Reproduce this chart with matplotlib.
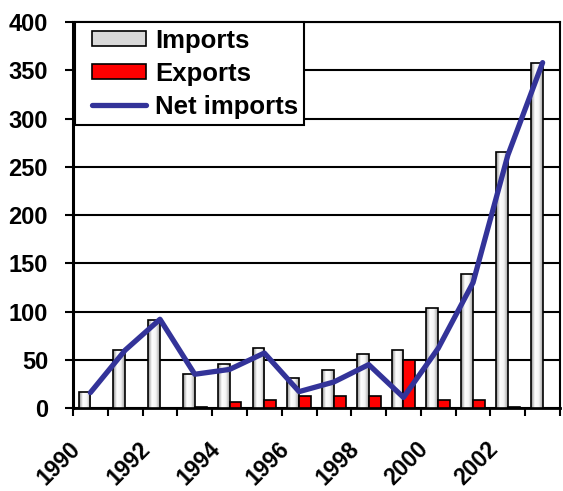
import numpy as np
import matplotlib
matplotlib.use("Agg")
import matplotlib.pyplot as plt
from matplotlib.colors import LinearSegmentedColormap
from matplotlib.patches import Patch
from matplotlib.lines import Line2D
from matplotlib.legend_handler import HandlerPatch, HandlerLine2D

years = list(range(1990, 2004))
imports = [17, 60, 91, 35, 46, 62, 31, 39, 56, 60, 104, 139, 265, 358]
exports = [0, 0, 0, 1.5, 6, 8, 12, 12, 12, 50, 8, 8, 1.5, 0]
net_imports = [16, 60, 92, 35, 40, 57, 17, 27, 45, 11, 62, 130, 262, 358]
label_years = [1990, 1992, 1994, 1996, 1998, 2000, 2002]

plt.rcParams['font.family'] = ['Liberation Sans', 'DejaVu Sans']
plt.rcParams['font.weight'] = 'bold'

fig = plt.figure(figsize=(5.63, 4.91), dpi=100)
ax = fig.add_axes([0.1297, 0.169, 0.865, 0.786])

x = np.arange(len(years))
w = 0.34

# gray-white-gray gradient like the old Excel fill
grad_cmap = LinearSegmentedColormap.from_list('g', ['#8c8c8c', '#ffffff', '#f4f4f4', '#a0a0a0'])
grad = np.linspace(0, 1, 64).reshape(1, -1)

ax.grid(axis='y', color='black', lw=1.5, zorder=0)
ax.set_axisbelow(True)

bars = ax.bar(x - w / 2, imports, w, facecolor='none', edgecolor='black', lw=1.2, zorder=3)
for b in bars:
    im = ax.imshow(grad, extent=[b.get_x(), b.get_x() + b.get_width(), 0, b.get_height()],
                   aspect='auto', cmap=grad_cmap, zorder=2.9, interpolation='bilinear')
    im.set_clip_path(b)
ax.bar(x + w / 2, exports, w, color='#ff0000', edgecolor='black', lw=1.2, zorder=3)
ax.plot(x, net_imports, color='#333399', lw=3.8, zorder=4, solid_capstyle='round')

ax.set_xlim(-0.5, len(years) - 0.5)
ax.set_ylim(0, 400)
ax.set_yticks(range(0, 401, 50))
ax.set_xticks(np.arange(-0.5, len(years), 1))
ax.set_xticklabels([])
ax.tick_params(axis='x', length=6, width=1.5, direction='out')
ax.tick_params(axis='y', length=6, width=1.5, direction='out', labelsize=17, pad=12)
for lab in ax.get_yticklabels():
    lab.set_fontweight('bold')

for y in label_years:
    i = years.index(y)
    ax.text(i - 0.38, -0.097, str(y), transform=ax.get_xaxis_transform(), rotation=45,
            rotation_mode='anchor', ha='right', va='center', fontsize=16.5, fontweight='bold')

for s in ax.spines.values():
    s.set_color('black')
    s.set_linewidth(1.5)
ax.spines['left'].set_linewidth(2.2)
ax.spines['bottom'].set_linewidth(2)

handles = [Patch(facecolor='#d9d9d9', edgecolor='black', lw=1.2),
           Patch(facecolor='#ff0000', edgecolor='black', lw=1.2),
           Line2D([], [], color='#333399', lw=3.8, solid_capstyle='round')]
labels = ['Imports', 'Exports', 'Net imports']
hmap = {handles[0]: HandlerPatch(xpad=0.41), handles[1]: HandlerPatch(xpad=0.41),
        handles[2]: HandlerLine2D(xpad=0.41)}
leg = ax.legend(handles, labels, handler_map=hmap, loc='upper left', bbox_to_anchor=(0.004, 1.0),
                borderaxespad=0, fancybox=False, framealpha=1, edgecolor='black',
                prop={'size': 18.5, 'weight': 'bold'},
                handlelength=2.51, handleheight=0.5, handletextpad=0.35, labelspacing=0.35,
                borderpad=0.25)
leg.get_frame().set_linewidth(1.5)
leg.set_zorder(5)

fig.savefig('out.png', dpi=100)
